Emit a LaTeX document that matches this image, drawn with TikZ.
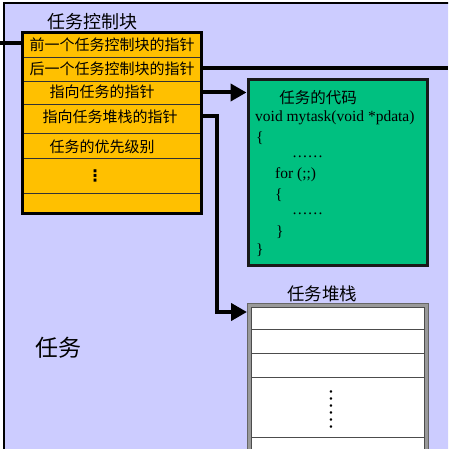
\documentclass[tikz,border=0pt]{standalone}
\usepackage{fontspec}
\setmainfont{Liberation Serif}
\newfontfamily\cjk{Noto Sans CJK SC}
\newfontfamily\dejavu{DejaVu Sans}
\usetikzlibrary{arrows.meta,calc}
\definecolor{lav}{RGB}{204,204,255}
\definecolor{gold}{RGB}{255,192,0}
\definecolor{codegreen}{RGB}{0,192,128}
\begin{document}
\begin{tikzpicture}[x=1pt,y=-1pt,
  rowbox/.style={draw=black!80, line width=0.8pt, fill=gold, minimum width=178pt, inner sep=0pt},
  rowtext/.style={inner sep=0pt, font=\cjk\fontsize{15}{15}\selectfont},
  codetext/.style={inner sep=0pt, anchor=west, font=\fontsize{15.5}{15.5}\selectfont},
  stackrow/.style={draw=black!70, line width=1pt, fill=white, minimum width=173pt, inner sep=0pt},
  conn/.style={line width=4pt},
  arr/.style={conn, -{Triangle[length=16pt,width=17pt]}}]
\useasboundingbox (0,0) rectangle (448,449);
\clip (0,0) rectangle (448,449);
\fill[white] (0,0) rectangle (448,449);
\draw[fill=lav, line width=2pt] (4,3) rectangle (480,480);

% TCB
\node (title) [inner sep=0pt, font=\cjk\fontsize{18}{18}\selectfont] at (92,22) {任务控制块};
\node (p1) [rowbox, minimum height=24pt] at (112,45) {};
\node (p2) [rowbox, minimum height=24pt] at (112,69) {};
\node (p3) [rowbox, minimum height=23pt] at (112,92.5) {};
\node (p4) [rowbox, minimum height=29pt] at (112,118.5) {};
\node (p5) [rowbox, minimum height=25pt] at (112,145.5) {};
\node (p6) [rowbox, minimum height=35pt] at (112,175.5) {};
\node (p7) [rowbox, minimum height=20pt] at (112,203) {};
\draw[line width=2.5pt] (p1.north west) rectangle (p7.south east);
\node (t1) [rowtext] at (112,45) {前一个任务控制块的指针};
\node (t2) [rowtext] at (112,69) {后一个任务控制块的指针};
\node (t3) [rowtext] at (102,92) {指向任务的指针};
\node (t4) [rowtext] at (110,117) {指向任务堆栈的指针};
\node (t5) [rowtext] at (102,147) {任务的优先级别};
\node (t6) [inner sep=0pt, font=\dejavu\bfseries\fontsize{16}{16}\selectfont] at (95,176) {⋮};

% code box
\node (code) [draw=black!90, line width=3pt, fill=codegreen, minimum width=179pt, minimum height=185pt] at (337.5,172.5) {};
\node (c0) [inner sep=0pt, font=\cjk\fontsize{15.5}{15.5}\selectfont] at (318,98) {任务的代码};
\node (c1) [codetext] at (255,118) {void mytask(void *pdata)};
\node (c2) [codetext] at (256,138) {\{};
\node (c3) [codetext] at (292,157) {……};
\node (c4) [codetext] at (275,175) {for (;;)};
\node (c5) [codetext] at (275,195) {\{};
\node (c6) [codetext] at (292,214) {……};
\node (c7) [codetext] at (276,232) {\}};
\node (c8) [codetext] at (256,250) {\}};

% stack
\node (stitle) [inner sep=0pt, font=\cjk\fontsize{17.5}{17.5}\selectfont] at (322,294) {任务堆栈};
\node (stack) [draw=black!60, line width=1pt, fill=gray!80, minimum width=181pt, minimum height=180pt, anchor=north west, inner sep=0pt] at (247,303) {};
\node (s1) [stackrow, minimum height=22pt, anchor=north west] at (251,307) {};
\node (s2) [stackrow, minimum height=24pt, anchor=north west] at (251,329) {};
\node (s3) [stackrow, minimum height=24pt, anchor=north west] at (251,353) {};
\node (s4) [stackrow, minimum height=60pt, anchor=north west] at (251,377) {};
\node (s5) [stackrow, minimum height=40pt, anchor=north west] at (251,437) {};
\node (sd) [inner sep=0pt, rotate=-90, font=\fontsize{21}{21}\selectfont] at (331,409) {……};

% big label
\node (task) [inner sep=0pt, font=\cjk\fontsize{23}{23}\selectfont] at (58,348) {任务};

% connectors
\coordinate (L) at (0,43);
\coordinate (R) at (448,68);
\draw[conn] (L) -- (L -| p1.west);
\draw[conn] (p2.east |- R) -- (R);
\draw[arr] (p3.east) -- (p3.east -| code.west);
\draw[arr] (p4.east |- 0,116) -- ++(16,0) |- ($(stack.north west)+(0,9)$);
\end{tikzpicture}
\end{document}
